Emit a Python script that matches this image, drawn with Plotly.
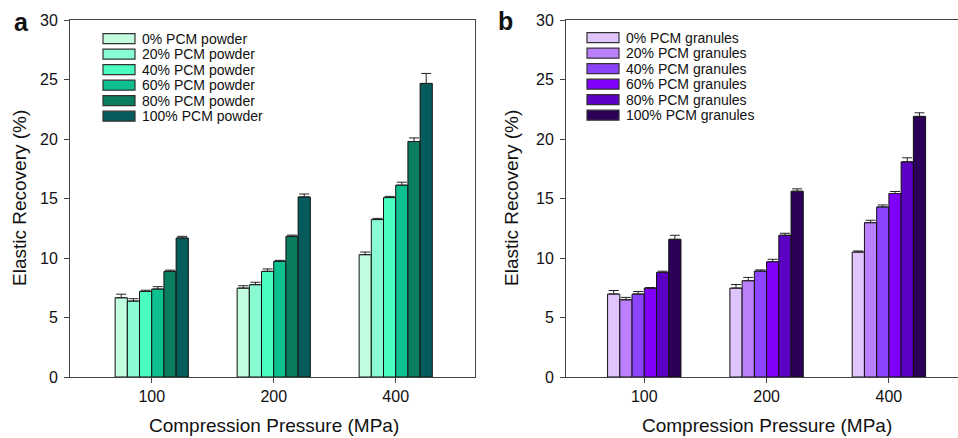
import plotly.graph_objects as go

# ---------------- data ----------------
pressures = ["100", "200", "400"]

powder_names = ["0% PCM powder", "20% PCM powder", "40% PCM powder",
                "60% PCM powder", "80% PCM powder", "100% PCM powder"]
powder_vals = [
    [6.66, 7.47, 10.28],
    [6.38, 7.76, 13.23],
    [7.19, 8.88, 15.08],
    [7.39, 9.72, 16.12],
    [8.88, 11.82, 19.79],
    [11.68, 15.13, 24.67],
]
powder_err = [
    [0.30, 0.20, 0.22],
    [0.20, 0.20, 0.10],
    [0.10, 0.20, 0.10],
    [0.20, 0.08, 0.25],
    [0.10, 0.10, 0.30],
    [0.14, 0.25, 0.84],
]

granule_names = ["0% PCM granules", "20% PCM granules", "40% PCM granules",
                 "60% PCM granules", "80% PCM granules", "100% PCM granules"]
granule_vals = [
    [6.97, 7.47, 10.50],
    [6.49, 8.09, 12.97],
    [6.97, 8.90, 14.29],
    [7.47, 9.69, 15.42],
    [8.79, 11.91, 18.08],
    [11.57, 15.61, 21.90],
]
granule_err = [
    [0.30, 0.30, 0.09],
    [0.20, 0.28, 0.20],
    [0.22, 0.10, 0.17],
    [0.05, 0.20, 0.17],
    [0.10, 0.17, 0.34],
    [0.34, 0.20, 0.30],
]

y_ticks = [0, 5, 10, 15, 20, 25, 30]

# ---------------- styles ----------------
powder_colors = ["#c2fde0", "#88fbd2", "#4afcc2", "#0cc090", "#0a7c60", "#065c5c"]
granule_colors = ["#e0c4fc", "#bc80fc", "#8c44fc", "#8000fc", "#5c00c4", "#2c0058"]

W, H = 958, 438
TOP, BOTTOM = 20, 377          # plot area, pixels from top
FONT = "Arial, Liberation Sans, sans-serif"

fig = go.Figure()


def add_group(names, vals, errs, colors, xa, ya):
    for n, v, e, c in zip(names, vals, errs, colors):
        fig.add_trace(go.Bar(
            x=pressures, y=v, name=n, xaxis=xa, yaxis=ya,
            marker=dict(color=c, line=dict(color="#111111", width=1)),
            error_y=dict(type="data", array=e, arrayminus=[0] * len(e),
                         symmetric=False, color="#222222", thickness=1, width=5),
            showlegend=False,
        ))


add_group(powder_names, powder_vals, powder_err, powder_colors, "x", "y")
add_group(granule_names, granule_vals, granule_err, granule_colors, "x2", "y2")


def px_x(p):
    return p / W


def px_y(p):
    # paper coordinate for a pixel row (paper = plot area between top/bottom margins)
    return (BOTTOM - p) / (BOTTOM - TOP)


axis_common = dict(showline=True, linecolor="#444444", linewidth=1,
                   showgrid=False, zeroline=False, automargin=False,
                   tickfont=dict(family=FONT, size=16, color="#111111"),
                   ticks="outside", ticklen=5, tickcolor="#444444")

fig.update_layout(
    width=W, height=H,
    margin=dict(l=0, r=0, t=TOP, b=H - BOTTOM, pad=0, autoexpand=False),
    paper_bgcolor="white", plot_bgcolor="white",
    barmode="group", bargap=0.4, bargroupgap=0,
    xaxis=dict(domain=[px_x(70), px_x(475)], range=[-0.67, 2.65],
               anchor="y", mirror=True, **axis_common),
    yaxis=dict(domain=[0, 1], range=[0, 30], tickvals=y_ticks,
               anchor="x", mirror=True, ticklabelstandoff=3, **axis_common),
    xaxis2=dict(domain=[px_x(566), 1.0], range=[-0.64, 2.565],
                anchor="y2", mirror=True, **axis_common),
    yaxis2=dict(domain=[0, 1], range=[0, 30], tickvals=y_ticks,
                anchor="x2", mirror=False, ticklabelstandoff=3, **axis_common),
    showlegend=False,
)

shapes = []
annotations = []


def legend(names, colors, x0, x1, tx, ycenters):
    for n, c, yc in zip(names, colors, ycenters):
        shapes.append(dict(type="rect", xref="paper", yref="paper",
                           x0=px_x(x0), x1=px_x(x1),
                           y0=px_y(yc + 5), y1=px_y(yc - 5),
                           fillcolor=c, line=dict(color="#333333", width=1.2)))
        annotations.append(dict(xref="paper", yref="paper", x=px_x(tx), y=px_y(yc),
                                xanchor="left", yanchor="middle", text=n, showarrow=False,
                                font=dict(family=FONT, size=14, color="#111111")))


legend(powder_names, powder_colors, 103, 135, 140,
       [38.7, 54.2, 69.7, 85.2, 100.7, 116.2])
legend(granule_names, granule_colors, 587, 619, 624,
       [37.7, 53.2, 68.7, 84.2, 99.7, 115.2])

# axis titles and panel labels
for x, y, t, ang in [(19, 198, "Elastic Recovery (%)", -90),
                     (511, 198, "Elastic Recovery (%)", -90),
                     (274, 425, "Compression Pressure (MPa)", 0),
                     (767, 425, "Compression Pressure (MPa)", 0)]:
    annotations.append(dict(xref="paper", yref="paper", x=px_x(x), y=px_y(y),
                            xanchor="center", yanchor="middle", text=t, textangle=ang,
                            showarrow=False,
                            font=dict(family=FONT, size=19, color="#111111")))

for x, y, t in [(21, 22, "a"), (505, 21, "b")]:
    annotations.append(dict(xref="paper", yref="paper", x=px_x(x), y=px_y(y),
                            xanchor="center", yanchor="middle", text="<b>%s</b>" % t,
                            showarrow=False,
                            font=dict(family=FONT, size=25, color="#111111")))

fig.update_layout(shapes=shapes, annotations=annotations)

fig.write_html("out.html")
